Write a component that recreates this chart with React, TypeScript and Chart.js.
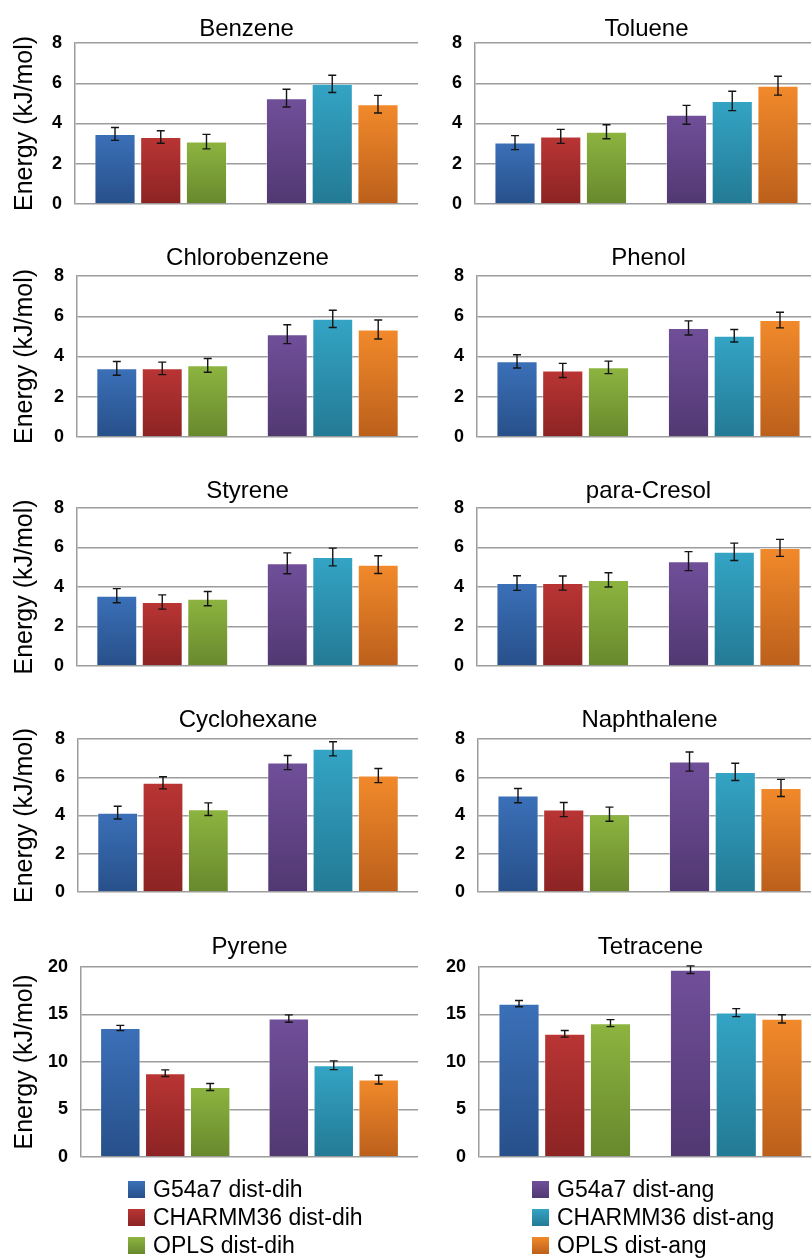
import React, { useEffect, useRef } from 'react';
import { Chart, registerables } from 'chart.js';

Chart.register(...registerables);

// ---- data ----
const molecules = [
  'Benzene', 'Toluene', 'Chlorobenzene', 'Phenol', 'Styrene',
  'para-Cresol', 'Cyclohexane', 'Naphthalene', 'Pyrene', 'Tetracene',
];
const forceFields = ['G54a7', 'CHARMM36', 'OPLS'];
const methods = ['dist-dih', 'dist-ang'];

// mean energies (kJ/mol), one entry per molecule
const g54a7DistDih = [3.48, 3.05, 3.41, 3.76, 3.56, 4.2, 4.15, 5.04, 13.58, 16.14];
const charmm36DistDih = [3.33, 3.36, 3.41, 3.31, 3.24, 4.2, 5.71, 4.31, 8.82, 12.97];
const oplsDistDih = [3.1, 3.59, 3.56, 3.46, 3.41, 4.36, 4.33, 4.07, 7.37, 14.09];
const g54a7DistAng = [5.26, 4.43, 5.11, 5.42, 5.2, 5.31, 6.77, 6.82, 14.57, 19.72];
const charmm36DistAng = [5.97, 5.12, 5.87, 5.03, 5.52, 5.78, 7.49, 6.28, 9.66, 15.2];
const oplsDistAng = [4.96, 5.88, 5.34, 5.81, 5.13, 5.98, 6.09, 5.44, 8.15, 14.54];

// error bar half-widths (kJ/mol)
const g54a7DistDihErr = [0.32, 0.35, 0.34, 0.33, 0.36, 0.37, 0.33, 0.37, 0.28, 0.33];
const charmm36DistDihErr = [0.31, 0.35, 0.31, 0.35, 0.36, 0.36, 0.32, 0.37, 0.35, 0.35];
const oplsDistDihErr = [0.36, 0.35, 0.34, 0.31, 0.36, 0.36, 0.33, 0.37, 0.37, 0.37];
const g54a7DistAngErr = [0.44, 0.47, 0.47, 0.35, 0.53, 0.48, 0.37, 0.5, 0.39, 0.4];
const charmm36DistAngErr = [0.43, 0.48, 0.43, 0.31, 0.45, 0.44, 0.37, 0.45, 0.46, 0.42];
const oplsDistAngErr = [0.44, 0.47, 0.47, 0.39, 0.45, 0.43, 0.37, 0.45, 0.46, 0.43];

// y-axis range per molecule
const yMax = [8, 8, 8, 8, 8, 8, 8, 8, 20, 20];
const yStep = [2, 2, 2, 2, 2, 2, 2, 2, 5, 5];

const distDih = [g54a7DistDih, charmm36DistDih, oplsDistDih];
const distAng = [g54a7DistAng, charmm36DistAng, oplsDistAng];
const distDihErr = [g54a7DistDihErr, charmm36DistDihErr, oplsDistDihErr];
const distAngErr = [g54a7DistAngErr, charmm36DistAngErr, oplsDistAngErr];

// ---- styling ----
const FONT = "'Liberation Sans', Arial, Helvetica, sans-serif";
// [top, bottom] gradient stops: dist-dih blue/red/green, dist-ang purple/teal/orange
const palette: [string, string][] = [
  ['#3b70b8', '#27508a'],
  ['#b93534', '#8c2323'],
  ['#8db440', '#68882d'],
  ['#704f99', '#513872'],
  ['#34a4c5', '#237a94'],
  ['#f28a2b', '#bb5f1b'],
];
const GRID = '#9c9c9c';

// panel geometry (page pixels)
const rowTop = [43, 276, 508, 739, 967];
const rowBottom = [204, 437, 666, 892, 1157];
const plotLeftCol0 = [75, 77, 77, 78, 81];
const plotLeftCol1 = [475, 477, 477, 478, 479];
const titleGap = [7, 11, 10, 12, 13];
const colOrigin = [0, 420];
const col0Right = 418;
const plotWidth = 343;
const PAD_TOP = 40;
const PAD_BOTTOM = 28;

function barFill(ctx: any, colorIdx: number) {
  const chart = ctx.chart;
  const [top, bottom] = palette[colorIdx];
  const y = chart.scales && chart.scales.y;
  if (!chart.chartArea || !y || typeof ctx.raw !== 'number') return top;
  const yTop = y.getPixelForValue(ctx.raw);
  const yBase = y.getPixelForValue(0);
  const g = chart.ctx.createLinearGradient(0, yTop, 0, yBase);
  g.addColorStop(0, top);
  g.addColorStop(1, bottom);
  return g;
}

const errorBars = {
  id: 'errorBars',
  afterDatasetsDraw(chart: any) {
    const { ctx } = chart;
    const y = chart.scales.y;
    chart.data.datasets.forEach((ds: any, i: number) => {
      const meta = chart.getDatasetMeta(i);
      meta.data.forEach((bar: any, j: number) => {
        const v = ds.data[j];
        const e = ds.errors[j];
        const x = bar.x;
        const hi = y.getPixelForValue(v + e);
        const lo = y.getPixelForValue(v - e);
        ctx.save();
        ctx.strokeStyle = '#141414';
        ctx.lineWidth = 1.4;
        ctx.beginPath();
        ctx.moveTo(x, hi);
        ctx.lineTo(x, lo);
        ctx.moveTo(x - 4, hi);
        ctx.lineTo(x + 4, hi);
        ctx.moveTo(x - 4, lo);
        ctx.lineTo(x + 4, lo);
        ctx.stroke();
        ctx.restore();
      });
    });
  },
};

const panelTitle = {
  id: 'panelTitle',
  afterDraw(chart: any, _args: any, opts: any) {
    const { ctx, chartArea } = chart;
    ctx.save();
    ctx.font = `24px ${FONT}`;
    ctx.fillStyle = '#000';
    ctx.textAlign = 'center';
    ctx.textBaseline = 'alphabetic';
    ctx.fillText(opts.text, (chartArea.left + chartArea.right) / 2, chartArea.top - opts.gap);
    ctx.restore();
  },
};

function Panel({ m }: { m: number }) {
  const ref = useRef<HTMLCanvasElement>(null);
  const row = Math.floor(m / 2);
  const col = m % 2;
  const originX = colOrigin[col];
  const plotLeft = col === 0 ? plotLeftCol0[row] : plotLeftCol1[row];
  const plotRight = col === 0 ? col0Right : plotLeft + plotWidth;
  const left = originX;
  const top = rowTop[row] - PAD_TOP;
  const width = plotRight - originX;
  const height = rowBottom[row] + PAD_BOTTOM - top;
  const axisWidth = plotLeft - originX;

  useEffect(() => {
    const datasets = forceFields.map((ff, k) => ({
      label: ff,
      data: [distDih[k][m], distAng[k][m]],
      errors: [distDihErr[k][m], distAngErr[k][m]],
      backgroundColor: (ctx: any) => barFill(ctx, ctx.dataIndex * 3 + k),
      borderColor: 'rgba(255,255,255,0.45)',
      borderWidth: 1,
      categoryPercentage: 0.8,
      barPercentage: 0.9,
    }));
    const chart = new Chart(ref.current as HTMLCanvasElement, {
      type: 'bar',
      data: { labels: methods, datasets: datasets as any },
      plugins: [errorBars, panelTitle],
      options: {
        animation: false,
        responsive: false,
        maintainAspectRatio: false,
        devicePixelRatio: 1,
        layout: { padding: { top: PAD_TOP, bottom: PAD_BOTTOM, left: 0, right: 0 } },
        plugins: {
          legend: { display: false },
          tooltip: { enabled: false },
          title: { display: false },
          panelTitle: { text: molecules[m], gap: titleGap[row] },
        } as any,
        scales: {
          x: { display: false },
          y: {
            min: 0,
            max: yMax[m],
            ticks: {
              stepSize: yStep[m],
              color: '#000',
              padding: 13,
              font: { family: FONT, size: 18, weight: 'bold' },
            },
            grid: { color: GRID, lineWidth: 1.5, drawTicks: false },
            border: { color: GRID, width: 1.5 },
            title: {
              display: col === 0,
              text: 'Energy (kJ/mol)',
              color: '#000',
              font: { family: FONT, size: 25 },
              padding: { top: 10, bottom: 0 },
            },
            afterFit: (scale: any) => {
              scale.width = axisWidth;
            },
          },
        },
      } as any,
    });
    return () => chart.destroy();
  }, []);

  return (
    <canvas
      ref={ref}
      width={width}
      height={height}
      style={{ position: 'absolute', left, top, width, height }}
    />
  );
}

// legend layout
const legendX = [128, 532];
const legendRowY = [1189, 1217, 1245];

export default function App() {
  return (
    <div
      style={{
        position: 'absolute',
        left: 0,
        top: 0,
        width: 811,
        height: 1259,
        overflow: 'hidden',
        background: '#fff',
      }}
    >
      {molecules.map((_, m) => (
        <Panel key={m} m={m} />
      ))}
      {methods.map((method, g) =>
        forceFields.map((ff, k) => {
          const [c1, c2] = palette[g * 3 + k];
          return (
            <div
              key={`${g}-${k}`}
              style={{
                position: 'absolute',
                left: legendX[g],
                top: legendRowY[k] - 14,
                height: 28,
                display: 'flex',
                alignItems: 'center',
                whiteSpace: 'nowrap',
                font: `23px ${FONT}`,
                color: '#000',
              }}
            >
              <span
                style={{
                  display: 'inline-block',
                  width: 17,
                  height: 17,
                  marginRight: 8,
                  background: `linear-gradient(${c1}, ${c2})`,
                }}
              />
              {`${ff} ${method}`}
            </div>
          );
        })
      )}
    </div>
  );
}
